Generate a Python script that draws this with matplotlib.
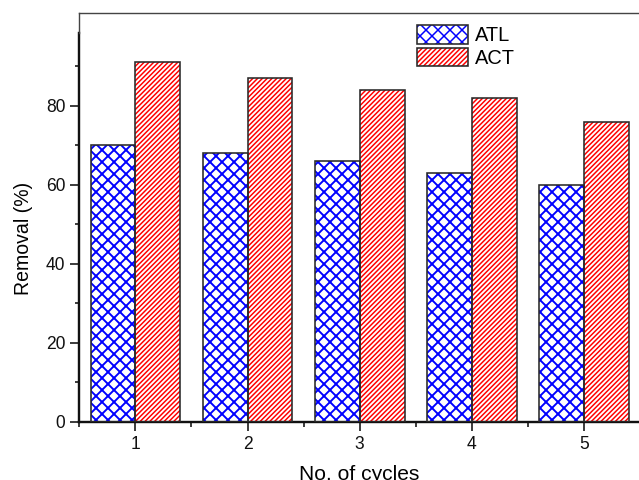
import matplotlib
matplotlib.use("Agg")
import matplotlib.pyplot as plt
from matplotlib.legend_handler import HandlerTuple
from matplotlib.ticker import FixedLocator

plt.rcParams["font.family"] = ["Liberation Sans", "DejaVu Sans"]
plt.rcParams["hatch.linewidth"] = 1.8

cycles = [1, 2, 3, 4, 5]
atl_removal = [70, 68, 66, 63, 60]
act_removal = [91, 87, 84, 82, 76]
series_names = ["ATL", "ACT"]

DPI = 72
fig = plt.figure(figsize=(639 / DPI, 480 / DPI), dpi=DPI)
ax = fig.add_axes([0.1241, 0.1215, 0.8775, 0.852])

width = 0.4
edge = "#2a2a2a"
x = list(cycles)


def hatched_bars(positions, values, color, hatch, hatch_lw):
    plt.rcParams["hatch.linewidth"] = hatch_lw
    fill = ax.bar(positions, values, width=width, color="white",
                  edgecolor=color, hatch=hatch, linewidth=0, zorder=2)
    for p in fill:
        if hasattr(p, "set_hatch_linewidth"):
            p.set_hatch_linewidth(hatch_lw)
    outline = ax.bar(positions, values, width=width, fill=False,
                     edgecolor=edge, linewidth=1.6, zorder=3)
    return fill, outline


atl = hatched_bars([c - width / 2 for c in x], atl_removal, "#0000ff", "xx", 1.9)
act = hatched_bars([c + width / 2 for c in x], act_removal, "#ff0000", "/////", 1.5)

ax.set_xlim(0.5, 5.5)
ax.set_ylim(0, 103.6)

ax.xaxis.set_major_locator(FixedLocator(cycles))
ax.xaxis.set_minor_locator(FixedLocator([0.5, 1.5, 2.5, 3.5, 4.5, 5.5]))
ax.yaxis.set_major_locator(FixedLocator([0, 20, 40, 60, 80]))
ax.yaxis.set_minor_locator(FixedLocator([10, 30, 50, 70, 90]))

ax.tick_params(which="major", direction="out", length=9, width=1.6,
               labelsize=17.5, colors="#111111")
ax.tick_params(axis="x", which="major", pad=5)
ax.tick_params(axis="y", which="major", pad=5)
ax.tick_params(which="minor", direction="out", length=4.5, width=1.6,
               colors="#111111")
ax.tick_params(axis="x", which="both", top=False)
ax.tick_params(axis="y", which="both", right=False)

# axis lines: thick left/bottom axes, thin surrounding frame
ax.spines["left"].set_bounds(0, 98.5)
ax.spines["left"].set_linewidth(2.4)
ax.spines["left"].set_color("#111111")
ax.spines["bottom"].set_linewidth(2.4)
ax.spines["bottom"].set_color("#111111")
for side in ("top", "right"):
    ax.spines[side].set_linewidth(1.4)
    ax.spines[side].set_color("#444444")
ax.plot([0, 0], [98.5 / 103.6, 1], transform=ax.transAxes, color="#444444",
        linewidth=1.4, clip_on=False, zorder=5)

ax.set_xlabel("No. of cycles", fontsize=21, labelpad=12)
ax.set_ylabel("Removal (%)", fontsize=19.5)
ax.yaxis.set_label_coords(-0.083, 0.447)

leg = ax.legend([atl, act], series_names,
                handler_map={tuple: HandlerTuple(ndivide=1)},
                loc="upper left", bbox_to_anchor=(416.5 / 639, 1 - 25 / 480),
                bbox_transform=fig.transFigure, frameon=False, fontsize=20,
                handlelength=2.55, handleheight=1.05, labelspacing=0.12,
                handletextpad=0.35, borderpad=0, borderaxespad=0)

fig.savefig("out.png", dpi=DPI)
